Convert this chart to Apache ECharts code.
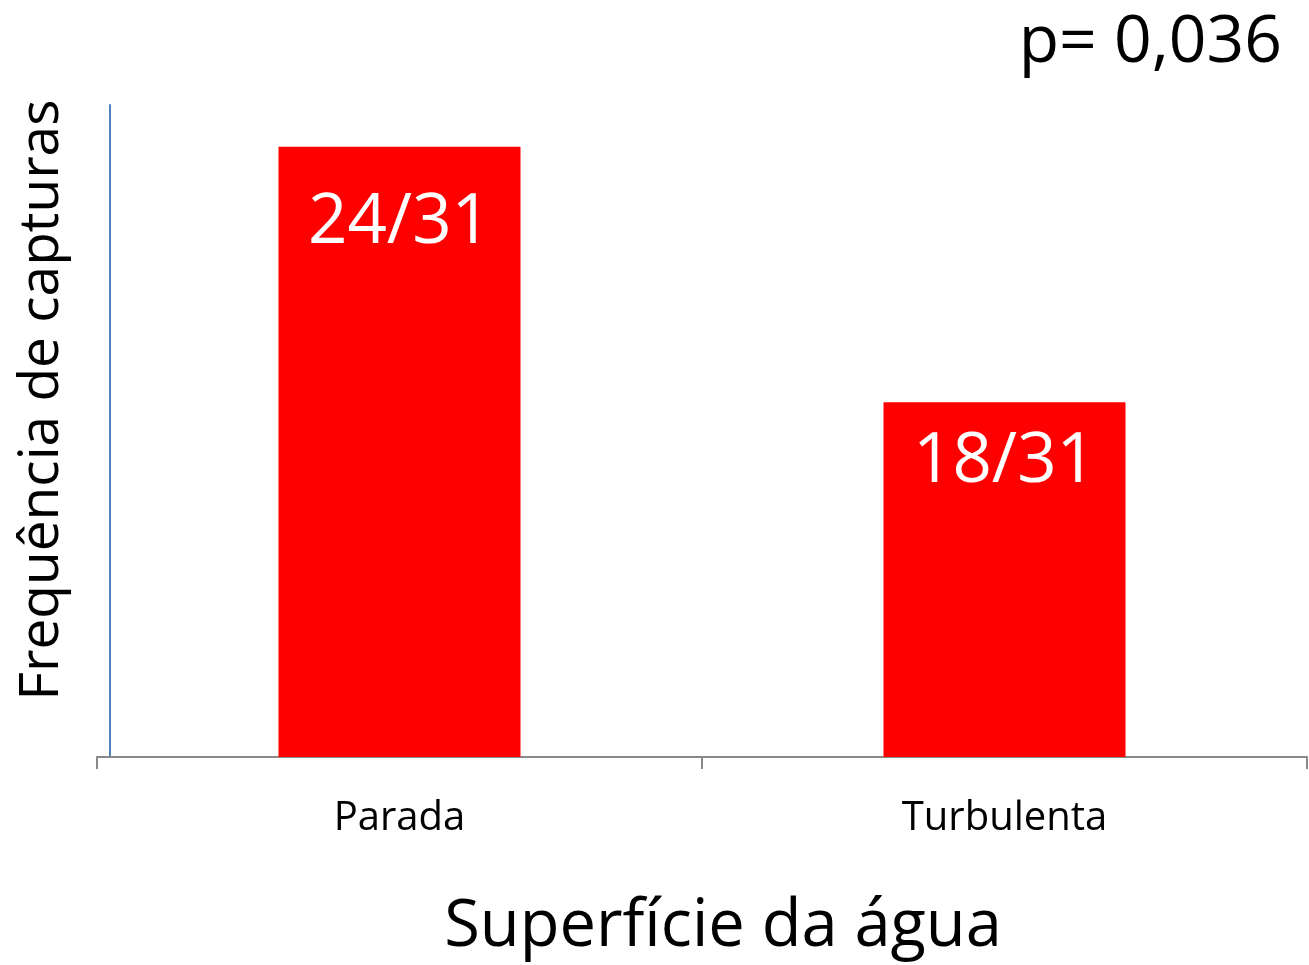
<!DOCTYPE html>
<html>
<head>
<meta charset="utf-8">
<script src="https://cdn.jsdelivr.net/npm/echarts@6/dist/echarts.min.js"></script>
<style>
  html, body { margin: 0; padding: 0; background: #fff; }
  #main { width: 1309px; height: 965px; }
</style>
</head>
<body>
<div id="main"></div>
<script>
// dados do gráfico
const categorias = ['Parada', 'Turbulenta'];
const valores = [93.6, 54.4]; // altura da barra (% do eixo)
const rotulos = ['24/31', '18/31'];
const yMax = 100;
const pValor = 'p= 0,036';

const fonte = 'Open Sans';
const distRotulo = [42, 26]; // distância do rótulo ao topo da barra

const chart = echarts.init(document.getElementById('main'));

const option = {
    backgroundColor: '#ffffff',
    title: {
        text: pValor,
        right: 27,
        top: 10,
        padding: 0,
        textStyle: { fontFamily: fonte, fontSize: 66, fontWeight: 'normal', color: '#000' }
    },
    grid: { left: 97, right: 2, top: 105, bottom: 207 },
    xAxis: {
        type: 'category',
        data: categorias,
        axisLine: { lineStyle: { color: '#888888', width: 2 } },
        axisTick: { show: true, length: 12, lineStyle: { color: '#888888', width: 2 } },
        axisLabel: { fontFamily: fonte, fontSize: 40, color: '#000', margin: 42 },
        name: 'Superfície da água',
        nameLocation: 'middle',
        nameGap: 138,
        nameTextStyle: { fontFamily: fonte, fontSize: 65, color: '#000', padding: [0, 0, 0, 42] }
    },
    yAxis: {
        type: 'value',
        min: 0,
        max: yMax,
        offset: -13,
        axisLine: { show: true, lineStyle: { color: '#4f81bd', width: 2 } },
        axisTick: { show: false },
        axisLabel: { show: false },
        splitLine: { show: false },
        name: 'Frequência de capturas',
        nameLocation: 'middle',
        nameGap: 40,
        nameTextStyle: { fontFamily: fonte, fontSize: 55, color: '#000', padding: [0, 0, 0, 62] }
    },
    series: [{
        type: 'bar',
        data: valores.map((v, i) => ({ value: v, label: { distance: distRotulo[i] } })),
        barWidth: '40%',
        itemStyle: { color: '#ff0000' },
        label: {
            show: true,
            position: 'insideTop',
            formatter: (p) => rotulos[p.dataIndex],
            fontFamily: fonte,
            fontSize: 69,
            color: '#ffffff'
        }
    }]
};
chart.setOption(option);
</script>
</body>
</html>
